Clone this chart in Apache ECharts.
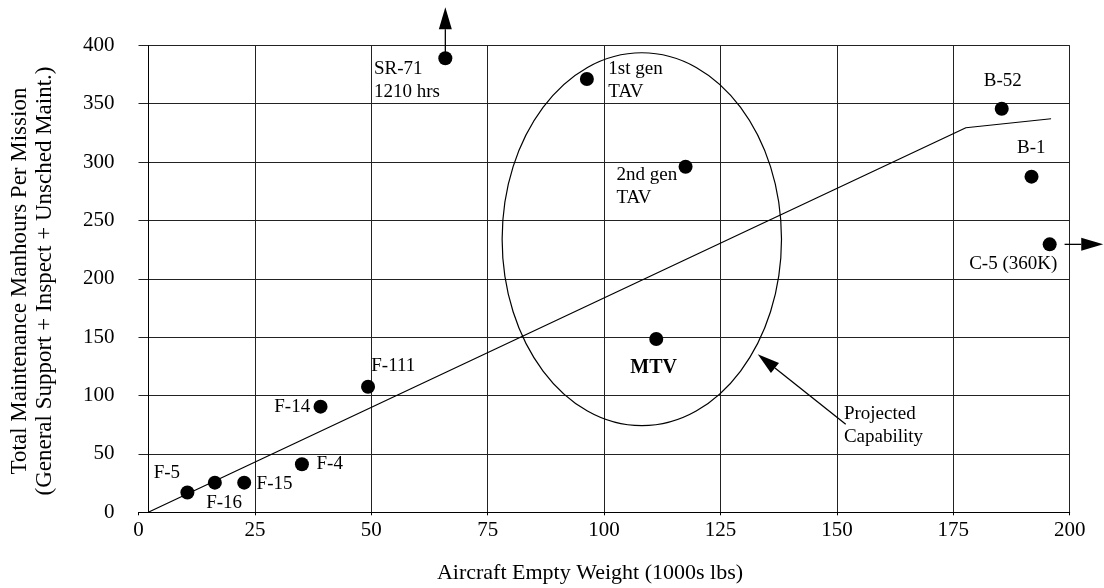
<!DOCTYPE html>
<html>
<head>
<meta charset="utf-8">
<script src="https://cdn.jsdelivr.net/npm/echarts@6/dist/echarts.min.js"></script>
<style>
html,body{margin:0;padding:0;background:#fff;}
#chart{width:1104px;height:588px;}
</style>
</head>
<body>
<div id="chart"></div>
<script>
// ---------- data ----------
const aircraft = ['F-5','F-16','F-15','F-4','F-14','F-111','SR-71\n1210 hrs','1st gen\nTAV','2nd gen\nTAV','MTV','B-52','B-1','C-5 (360K)'];
const emptyWeight = [10.5, 16.4, 22.7, 35.1, 39.1, 49.3, 65.9, 96.3, 117.5, 111.2, 185.4, 191.8, 195.7];
const manhours    = [17, 25.4, 25.4, 41.1, 90.5, 107.6, 388.9, 371.1, 296, 148.4, 345.7, 287.5, 229.5];

const trendX = [2.1, 177.7, 196.0];
const trendY = [0, 329.4, 337.1];

const yAxisCrossX = 2.1;

// ellipse: centre x, centre y, radius x, radius y (data units)
const capabilityEllipse = [108.1, 233.9, 30.0, 159.7];

// arrows: from (x,y) to tip (x,y)
const arrowFromX = [65.9, 198.9, 151.9];
const arrowFromY = [393.6, 229.5, 75.4];
const arrowToX   = [65.9, 207.2, 133.0];
const arrowToY   = [432.5, 229.5, 135.3];
const arrowNote  = ['', '', 'Projected\nCapability'];

const xTicks = {min: 0, max: 200, step: 25};
const yTicks = {min: 0, max: 400, step: 50};

// ---------- styles ----------
const FONT = '"Liberation Serif", "Times New Roman", serif';
const labelCfg = [
  {align:'left',   offset:[-33.7,-19.2]},
  {align:'left',   offset:[-8.7, 20.6]},
  {align:'left',   offset:[12.4, 1.3]},
  {align:'left',   offset:[14.6, 0]},
  {align:'right',  offset:[-10.4, 0.6]},
  {align:'left',   offset:[3.2, -21]},
  {align:'left',   offset:[-71.4, 22.2]},
  {align:'left',   offset:[21.5, 1.2]},
  {align:'left',   offset:[-69.1, 19.8]},
  {align:'center', offset:[-2.6, 28.7], fontWeight:'bold', fontSize:20},
  {align:'left',   offset:[-18, -28]},
  {align:'left',   offset:[-14.4, -28.4]},
  {align:'right',  offset:[7.6, 19.7]}
];

const chart = echarts.init(document.getElementById('chart'), null, {renderer:'canvas'});

const baseLabel = {show:true, position:'inside', verticalAlign:'middle', color:'#000',
  fontFamily:FONT, fontSize:19, lineHeight:23, textBorderWidth:0, textShadowBlur:0};

const scatterData = aircraft.map((n, i) => ({
  name: n,
  value: [emptyWeight[i], manhours[i]],
  label: Object.assign({}, baseLabel, {formatter: n}, labelCfg[i])
}));

const arrowData = arrowFromX.map((x, i) => [x, arrowFromY[i], arrowToX[i], arrowToY[i]]);
const noteData = arrowNote.map((t, i) => t ? {name:t, value:[arrowFromX[i], arrowFromY[i]]} : null).filter(Boolean);

function renderArrow(params, api) {
  const s = api.coord([api.value(0), api.value(1)]);
  const t = api.coord([api.value(2), api.value(3)]);
  const dx = t[0]-s[0], dy = t[1]-s[1];
  const len = Math.hypot(dx, dy);
  const ux = dx/len, uy = dy/len;
  const L = 22, W = 6.5;
  const bx = t[0]-ux*L, by = t[1]-uy*L;
  return {
    type:'group',
    children:[
      {type:'line', shape:{x1:s[0], y1:s[1], x2:bx, y2:by}, style:{stroke:'#000', lineWidth:1.3}},
      {type:'polygon', shape:{points:[[t[0],t[1]],[bx-uy*W, by+ux*W],[bx+uy*W, by-ux*W]]}, style:{fill:'#000'}}
    ]
  };
}

function renderEllipse(params, api) {
  const c = api.coord([api.value(0), api.value(1)]);
  const sz = api.size([api.value(2), api.value(3)]);
  return {type:'ellipse', shape:{cx:c[0], cy:c[1], rx:sz[0], ry:sz[1]},
          style:{fill:null, stroke:'#000', lineWidth:1.2}};
}

const option = {
  backgroundColor:'#fff',
  animation:false,
  textStyle:{fontFamily:FONT, color:'#000'},
  grid:{left:138.5, right:34.3, top:45.3, bottom:75.7, containLabel:false, outerBoundsMode:'none'},
  xAxis:{
    type:'value', min:xTicks.min, max:xTicks.max, interval:xTicks.step,
    axisLine:{show:true, lineStyle:{color:'#000', width:1}},
    axisTick:{show:true, length:3, lineStyle:{color:'#000'}},
    axisLabel:{fontFamily:FONT, fontSize:21, color:'#000', margin:8},
    splitLine:{show:true, showMinLine:false, lineStyle:{color:'#222', width:1}}
  },
  yAxis:{
    type:'value', min:yTicks.min, max:yTicks.max, interval:yTicks.step,
    axisLine:{show:false},
    axisTick:{show:false},
    axisLabel:{fontFamily:FONT, fontSize:21, color:'#000', margin:24},
    splitLine:{show:true, lineStyle:{color:'#222', width:1}}
  },
  graphic:[
    {type:'text', x:590, y:573, style:{text:'Aircraft Empty Weight (1000s lbs)', font:'22px ' + FONT, fill:'#000', align:'center', verticalAlign:'middle'}},
    {type:'text', x:32.5, y:281, rotation:Math.PI/2,
     style:{text:'Total Maintenance Manhours Per Mission\n(General Support + Inspect + Unsched Maint.)', font:'23px ' + FONT, fill:'#000', align:'center', verticalAlign:'middle', lineHeight:25}}
  ],
  series:[
    {
      type:'line', name:'trend', data:trendX.map((x,i)=>[x, trendY[i]]),
      symbol:'none', lineStyle:{color:'#000', width:1.2}, silent:true, z:3,
      markLine:{silent:true, symbol:'none', label:{show:false},
        lineStyle:{color:'#000', width:1, type:'solid', opacity:1},
        emphasis:{disabled:true},
        data:[{xAxis:yAxisCrossX}]}
    },
    {
      type:'custom', name:'ellipse', renderItem:renderEllipse, clip:false, silent:true, z:3,
      data:[capabilityEllipse]
    },
    {
      type:'custom', name:'arrows', renderItem:renderArrow, clip:false, silent:true, z:4,
      data:arrowData
    },
    {
      type:'scatter', name:'notes', data:noteData, symbolSize:0, clip:false, silent:true,
      itemStyle:{opacity:1},
      label:Object.assign({}, baseLabel, {align:'left', offset:[-1.8, 1], formatter:(p)=>p.name})
    },
    {
      type:'scatter', name:'aircraft', data:scatterData, symbol:'circle', symbolSize:14, clip:false, z:5,
      itemStyle:{color:'#000', opacity:1, borderWidth:0},
      label:baseLabel
    }
  ]
};
chart.setOption(option);
</script>
</body>
</html>
